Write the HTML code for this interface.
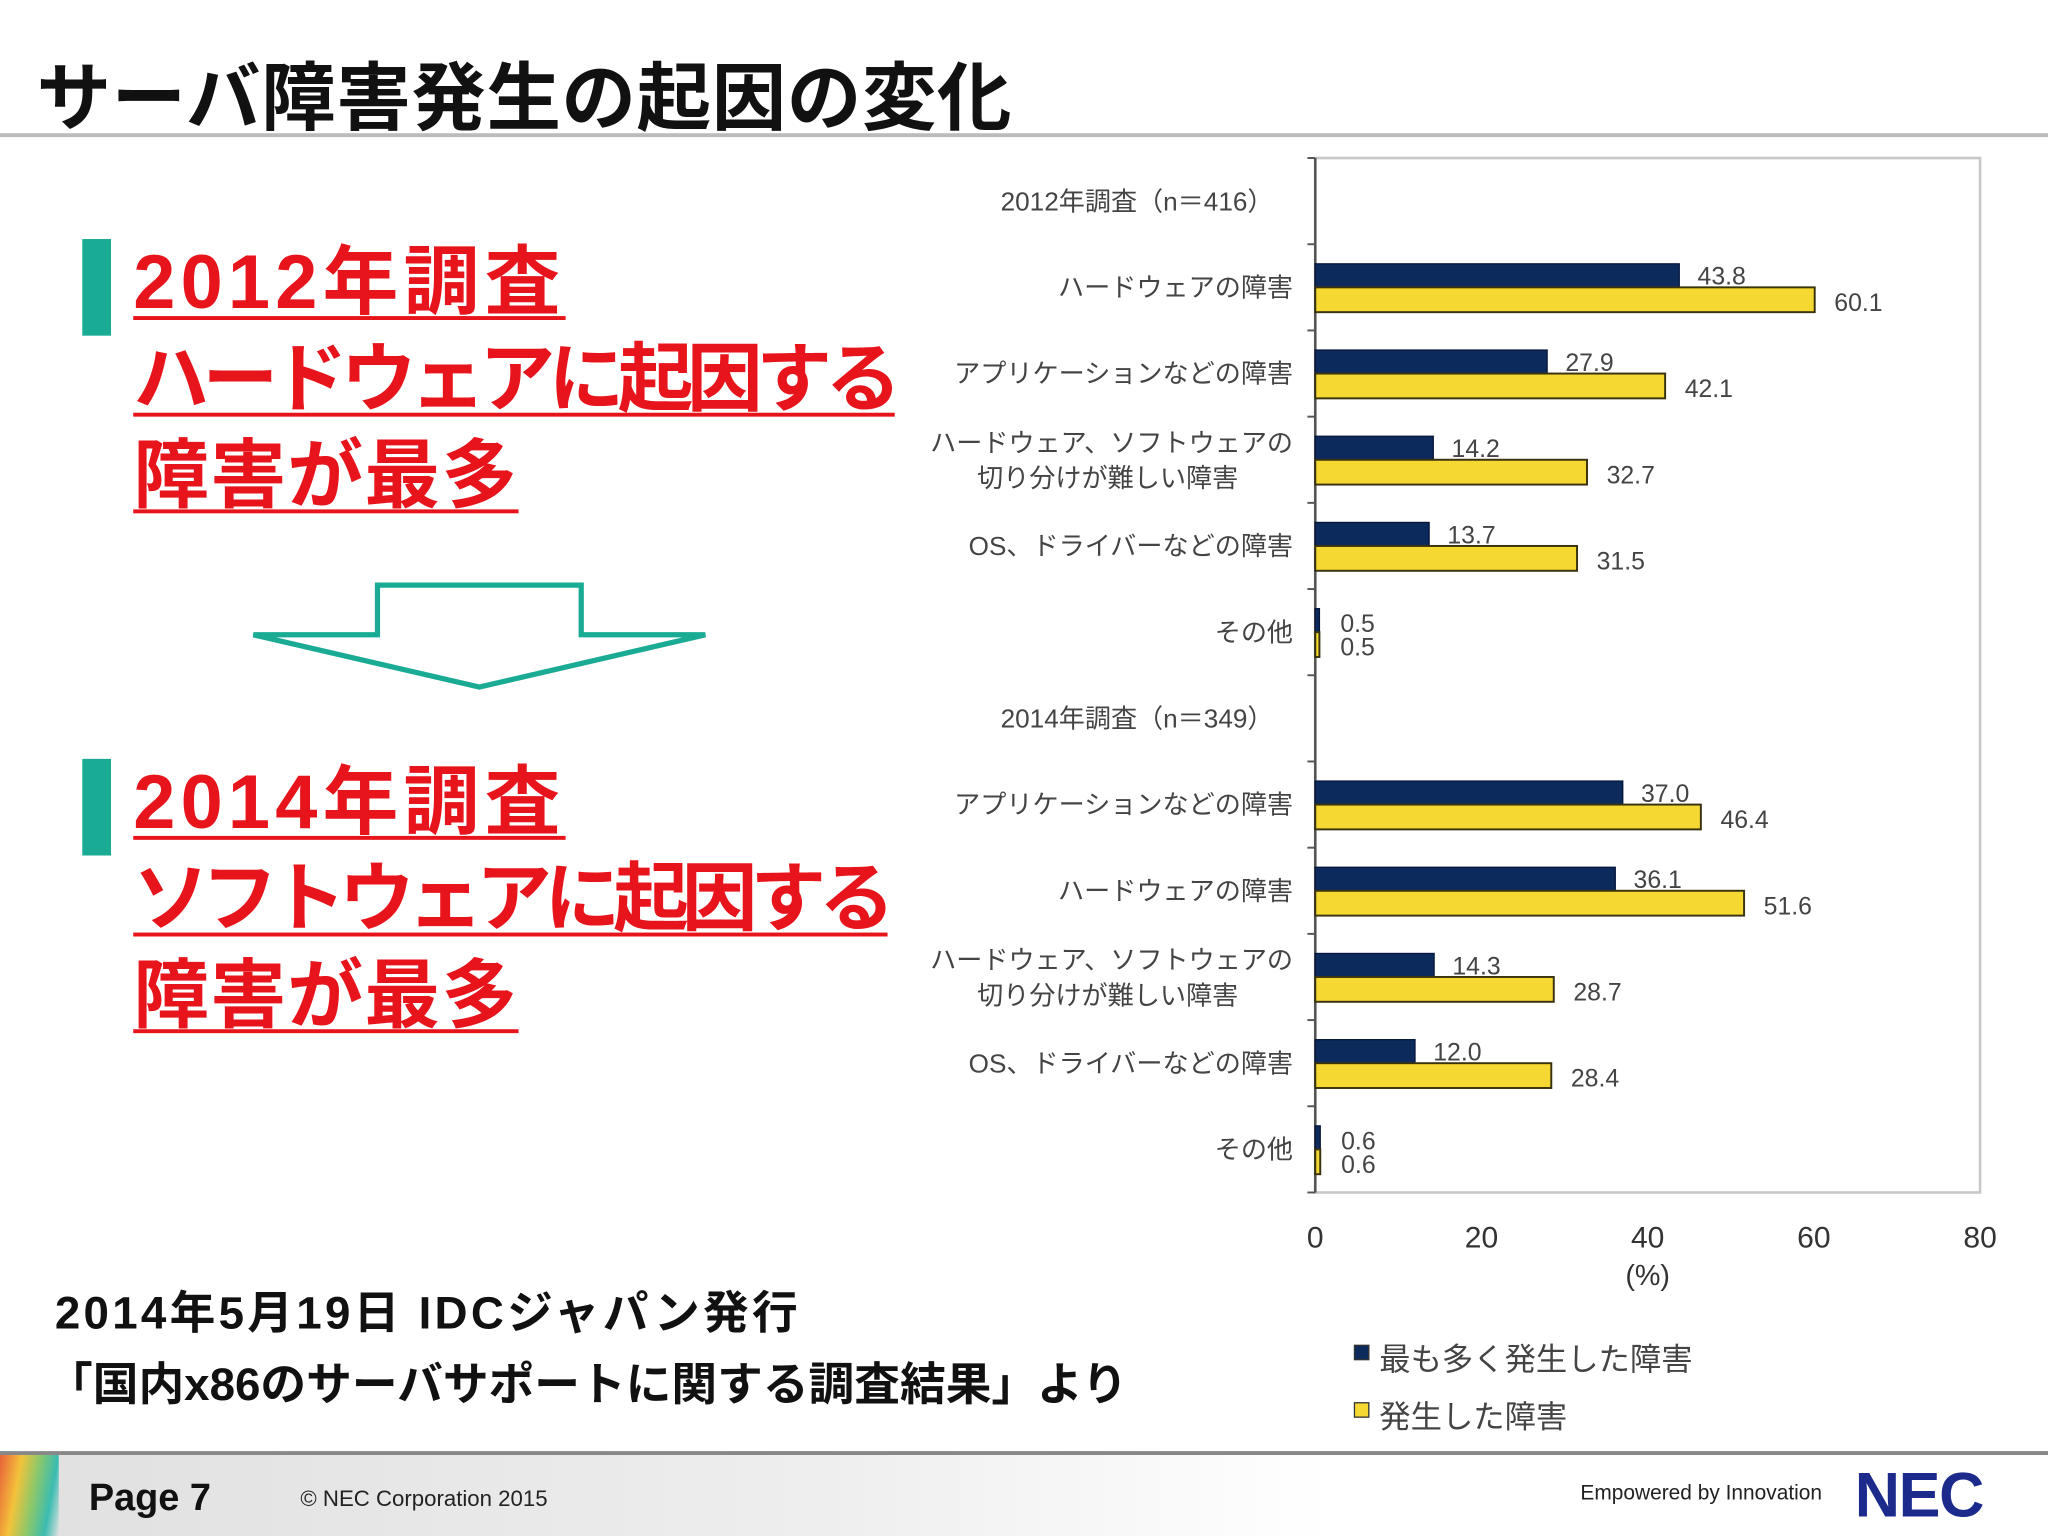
<!DOCTYPE html>
<html><head><meta charset="utf-8">
<style>
html,body{margin:0;padding:0;width:2048px;height:1536px;overflow:hidden;background:#fff}
#wrap{position:absolute;left:0;top:0;width:1568px;height:1176px;transform:scale(1.306122);transform-origin:0 0;font-family:"Liberation Sans","Noto Sans CJK JP",sans-serif}
.abs{position:absolute;white-space:nowrap}
.red{color:#e8141b;font-weight:bold;font-size:58px;text-decoration:underline;text-decoration-thickness:3px;text-underline-offset:6px;line-height:1}
</style></head><body>
<div id="wrap">
<div class="abs" style="left:28px;top:30px;font-size:57px;font-weight:bold;color:#111;letter-spacing:0.5px">サーバ障害発生の起因の変化</div>
<div class="abs" style="left:0;top:102px;width:1568px;height:3px;background:#bbb"></div>

<div class="abs" style="left:63px;top:183px;width:22px;height:74px;background:#1aab94"></div>
<div class="abs red" style="left:102px;top:188px;letter-spacing:4px">2012年調査</div>
<div class="abs red" style="left:102px;top:262px;letter-spacing:-5px">ハードウェアに起因する</div>
<div class="abs red" style="left:102px;top:336px;letter-spacing:1px">障害が最多</div>

<svg class="abs" style="left:0;top:0" width="600" height="560">
<polygon points="289,448 445,448 445,486 540,486 367,526 194,486 289,486" fill="none" stroke="#1aab94" stroke-width="4"/>
</svg>

<div class="abs" style="left:63px;top:581px;width:22px;height:74px;background:#1aab94"></div>
<div class="abs red" style="left:102px;top:586px;letter-spacing:4px">2014年調査</div>
<div class="abs red" style="left:102px;top:660px;letter-spacing:-5.5px">ソフトウェアに起因する</div>
<div class="abs red" style="left:102px;top:734px;letter-spacing:1px">障害が最多</div>

<div class="abs" style="left:42px;top:977px;font-size:35px;font-weight:bold;color:#111;letter-spacing:2.5px">2014年5月19日 IDCジャパン発行</div>
<div class="abs" style="left:36px;top:1032px;font-size:35px;font-weight:bold;color:#111">「国内x86のサーバサポートに関する調査結果」より</div>

<svg id="chart" class="abs" style="left:0;top:0" width="1568" height="1110"></svg>

<div class="abs" style="left:0;top:1111px;width:1568px;height:3px;background:#888"></div>
<div class="abs" style="left:0;top:1114px;width:1568px;height:62px;background:linear-gradient(90deg,#e0e0e0 0%,#eee 40%,#fff 65%,#fff 100%)"></div>
<div class="abs" style="left:0;top:1114px;width:45px;height:62px;background:linear-gradient(100deg,#e8603a 0%,#f3c23a 30%,#8cc86a 55%,#3bbcb0 80%,rgba(255,255,255,0) 100%)"></div>
<div class="abs" style="left:68px;top:1131px;font-size:29px;font-weight:bold;color:#111">Page 7</div>
<div class="abs" style="left:230px;top:1138px;font-size:17px;color:#222">© NEC Corporation 2015</div>
<div class="abs" style="left:1210px;top:1135px;font-size:16px;color:#222">Empowered by Innovation</div>
<div class="abs" style="left:1420px;top:1118px;font-size:48px;font-weight:bold;color:#1c2a8c;letter-spacing:-1px">NEC</div>
</div>
<script>
const rows = ["2012年調査（n＝416）","ハードウェアの障害","アプリケーションなどの障害","ハードウェア、ソフトウェアの|切り分けが難しい障害","OS、ドライバーなどの障害","その他","2014年調査（n＝349）","アプリケーションなどの障害","ハードウェアの障害","ハードウェア、ソフトウェアの|切り分けが難しい障害","OS、ドライバーなどの障害","その他"];
const mostValues = [null,43.8,27.9,14.2,13.7,0.5,null,37.0,36.1,14.3,12.0,0.6];
const occurValues = [null,60.1,42.1,32.7,31.5,0.5,null,46.4,51.6,28.7,28.4,0.6];
const xTicks = [0,20,40,60,80];
const legendLabels = ["最も多く発生した障害","発生した障害"];

const svg = document.getElementById('chart');
const NS = 'http://www.w3.org/2000/svg';
const x0 = 1007, x1 = 1516, top0 = 121, rowH = 66, xMax = 80;
const bottom = top0 + rowH*rows.length;
function xs(v){return x0 + v/xMax*(x1-x0);}
function yc(i){return top0 + rowH*i + rowH/2;}
function mk(tag, attrs){const e=document.createElementNS(NS,tag);for(const k in attrs)e.setAttribute(k,attrs[k]);svg.appendChild(e);return e;}
function txt(s,x,y,size,anchor,fill){const t=mk('text',{x:x,y:y,'font-size':size,'text-anchor':anchor,fill:fill,'font-family':'"Liberation Sans","Noto Sans CJK JP",sans-serif'});t.textContent=s;return t;}

const frame = mk('rect',{x:x0,y:top0,width:x1-x0,height:bottom-top0,fill:'none',stroke:'#c8c8c8','stroke-width':2});


const yaxis = mk('line',{x1:x0,y1:top0,x2:x0,y2:bottom,stroke:'#555','stroke-width':2});


for(let i=0;i<=rows.length;i++){
  const tk = mk('line',{x1:x0-6,y1:top0+rowH*i,x2:x0,y2:top0+rowH*i,stroke:'#555','stroke-width':1.5});
  
  
}
xTicks.forEach(v=>{
  const t = txt(String(v),xs(v),955,23,'middle','#333');
  
  
});
const unit = txt('(%)',xs(40),984,22,'middle','#333');



rows.forEach((r,i)=>{
  const c = yc(i);
  const parts = r.split('|');
  const isHeader = mostValues[i]===null;
  const lx = isHeader ? 975 : 990;
  if(parts.length===2){
    const a = txt(parts[0],lx,c-6,20,'end','#444');
    
    
    const b = txt(parts[1],948,c+21,20,'end','#444');
    
    
  } else {
    const a = txt(parts[0],lx,c+7,20,'end','#444');
    
    
  }
  if(isHeader) return;
  const m = mostValues[i], o = occurValues[i];
  const b1 = mk('rect',{x:x0,y:c-18,width:Math.max(xs(m)-x0,2),height:18,fill:'#0c2a5c',stroke:'#06163a','stroke-width':1});
  
  
  const b2 = mk('rect',{x:x0,y:c,width:Math.max(xs(o)-x0,2),height:19,fill:'#f5d832',stroke:'#3a3310','stroke-width':1.5});
  
  
  const small = m < 2;
  const l1 = txt(m.toFixed(1), xs(m)+(small?16:14), small?c:c-2, 19, 'start', '#444');
  
  
  const l2 = txt(o.toFixed(1), xs(o)+(small?16:15), c+18, 19, 'start', '#444');
  
  
});

const lc = ['#0c2a5c','#f5d832'];
legendLabels.forEach((s,i)=>{
  const y = 1040 + i*44;
  const sw = mk('rect',{x:1037,y:y-10,width:11,height:11,fill:lc[i],stroke:'#333','stroke-width':1});
  
  
  const t = txt(s,1056,y+9,24,'start','#444');
  
  
});
</script>
</body></html>
